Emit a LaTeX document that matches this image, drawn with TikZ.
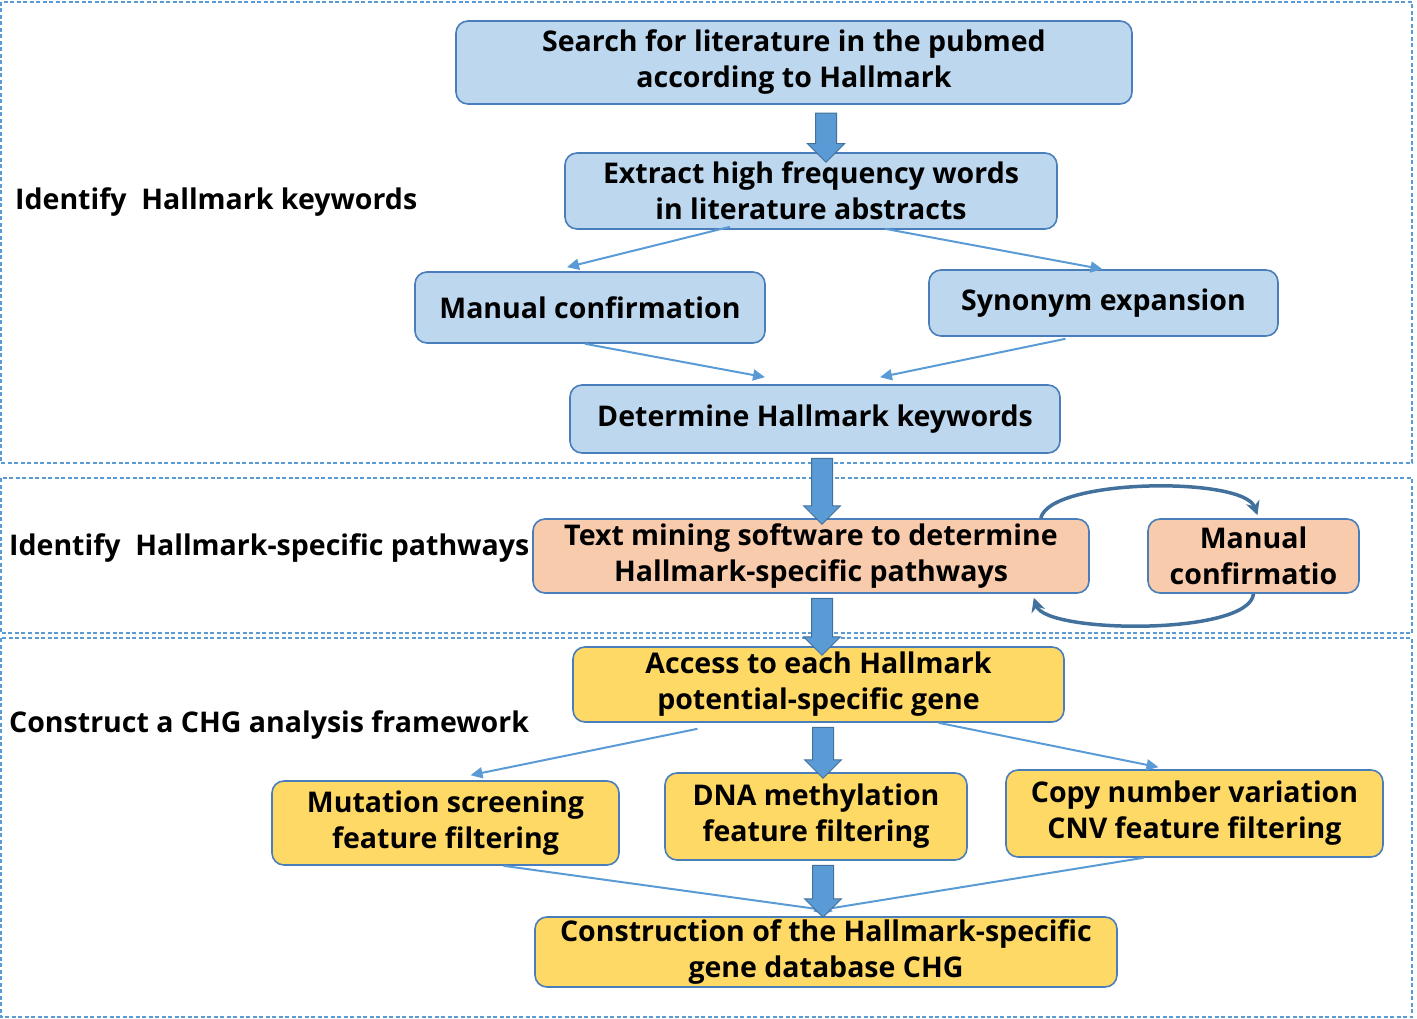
\documentclass[tikz,border=0pt]{standalone}
\usepackage{fontspec}
\setmainfont{Open Sans}
\usetikzlibrary{shapes.arrows,arrows.meta,calc}
\definecolor{frameblue}{HTML}{5B9BD5}
\definecolor{boxline}{HTML}{4A7EBB}
\definecolor{bluefill}{HTML}{BDD7EE}
\definecolor{orangefill}{HTML}{F8CBAD}
\definecolor{yellowfill}{HTML}{FFD966}
\definecolor{arrowfill}{HTML}{5B9BD5}
\definecolor{arrowline}{HTML}{41719C}
\tikzset{
  frame/.style={draw=frameblue, line width=1.5pt, dash pattern=on 4pt off 2.5pt},
  box/.style={draw=boxline, line width=1.6pt, rounded corners=12pt, align=center,
    font=\fontsize{28.5}{36}\selectfont\bfseries, inner sep=0pt},
  bluebox/.style={box, fill=bluefill},
  orangebox/.style={box, fill=orangefill},
  yellowbox/.style={box, fill=yellowfill},
  sidelabel/.style={anchor=west, font=\fontsize{28.5}{36}\selectfont\bfseries, inner sep=0pt},
  thin/.style={draw=frameblue, line width=2pt, -{Triangle[length=12pt,width=11pt]}},
  blockarrow/.style={single arrow, fill=arrowfill, draw=arrowline, line width=1pt,
    rotate=-90, inner xsep=0pt, inner ysep=10pt, single arrow head extend=8pt,
    single arrow tip angle=90, single arrow head indent=0pt},
  loop/.style={draw=arrowline, line width=3.5pt, -{Stealth[length=14pt,width=14pt]}},
}
\begin{document}
\begin{tikzpicture}[x=1pt,y=-1pt]
\useasboundingbox (0,0) rectangle (1417,1019);
% frames
\draw[frame] (1,2) rectangle (1412,463);
\draw[frame] (1,478) rectangle (1412,633);
\draw[frame] (1,638) rectangle (1412,1017);
% side labels
\node[sidelabel] (l1) at (15,202) {Identify\ \ Hallmark keywords};
\node[sidelabel] (l2) at (9,548) {Identify\ \ Hallmark-specific pathways};
\node[sidelabel] (l3) at (9,725) {Construct a CHG analysis framework};
% boxes
\node[bluebox, minimum width=676pt, minimum height=83pt] (b1) at (794,62.5) {Search for literature in the pubmed\\according to Hallmark};
\node[bluebox, minimum width=492pt, minimum height=76pt] (b2) at (811,191) {Extract high frequency words\\in literature abstracts};
\node[bluebox, minimum width=350pt, minimum height=71pt] (b3) at (590,307.5) {Manual confirmation};
\node[bluebox, minimum width=349pt, minimum height=66pt] (b4) at (1103.5,303) {Synonym expansion};
\node[bluebox, minimum width=490pt, minimum height=68pt] (b5) at (815,419) {Determine Hallmark keywords};
\node[orangebox, minimum width=556pt, minimum height=74pt] (b6) at (811,556) {Text mining software to determine\\Hallmark-specific pathways};
\node[orangebox, minimum width=211pt, minimum height=74pt] (b7) at (1253.5,556) {Manual\\confirmatio};
\node[yellowbox, minimum width=491pt, minimum height=75pt] (b8) at (818.5,684.5) {Access to each Hallmark\\potential-specific gene};
\node[yellowbox, minimum width=347pt, minimum height=84pt] (b9) at (445.5,823) {Mutation screening\\feature filtering};
\node[yellowbox, minimum width=302pt, minimum height=87pt] (b10) at (816,816.5) {DNA methylation\\feature filtering};
\node[yellowbox, minimum width=377pt, minimum height=87pt] (b11) at (1194.5,813.5) {Copy number variation\\CNV feature filtering};
\node[yellowbox, minimum width=582pt, minimum height=70pt] (b12) at (826,952) {Construction of the Hallmark-specific\\gene database CHG};
% thin arrows
\draw[thin] ($(b2.south)+(-81,-3)$) -- ($(b3.north)+(-23,-4)$);
\draw[thin] ($(b2.south)+(74,-1)$) -- ($(b4.north)+(-1,0)$);
\draw[thin] ($(b3.south)+(-5,0)$) -- ($(b5.north)+(-50,-7)$);
\draw[thin] ($(b4.south)+(-38,2)$) -- ($(b5.north)+(65,-7)$);
\draw[thin] ($(b8.south)+(-121,6)$) -- ($(b9.north)+(25,-5)$);
\draw[thin] ($(b8.south)+(120,0)$) -- ($(b11.north)+(-36,-2)$);
\draw[thin] ($(b9.south)+(58,0)$) -- ($(b12.north)+(7,-5)$);
\draw[thin] ($(b11.south)+(-51,0)$) -- ($(b12.north)+(-13,-5)$);
% block arrows
\node[blockarrow, minimum height=49pt] (a1) at (826,132.5) {};
\node[blockarrow, minimum height=66pt] (a2) at (822,486) {};
\node[blockarrow, minimum height=57pt] (a3) at (822,621.5) {};
\node[blockarrow, minimum height=51pt] (a4) at (823,747.5) {};
\node[blockarrow, minimum height=52pt] (a5) at (823,886) {};
% loop arrows
\draw[loop] ($(b6.north east)+(-49,0)$) .. controls ($(b6.north east)+(-40,-40)$) and ($(b7.north)+(-10,-42)$) .. ($(b7.north)+(4,-3)$);
\draw[loop] ($(b7.south)+(0,0)$) .. controls ($(b7.south)+(-4,42)$) and ($(b6.south east)+(-44,40)$) .. ($(b6.south east)+(-56,4)$);
\end{tikzpicture}
\end{document}
